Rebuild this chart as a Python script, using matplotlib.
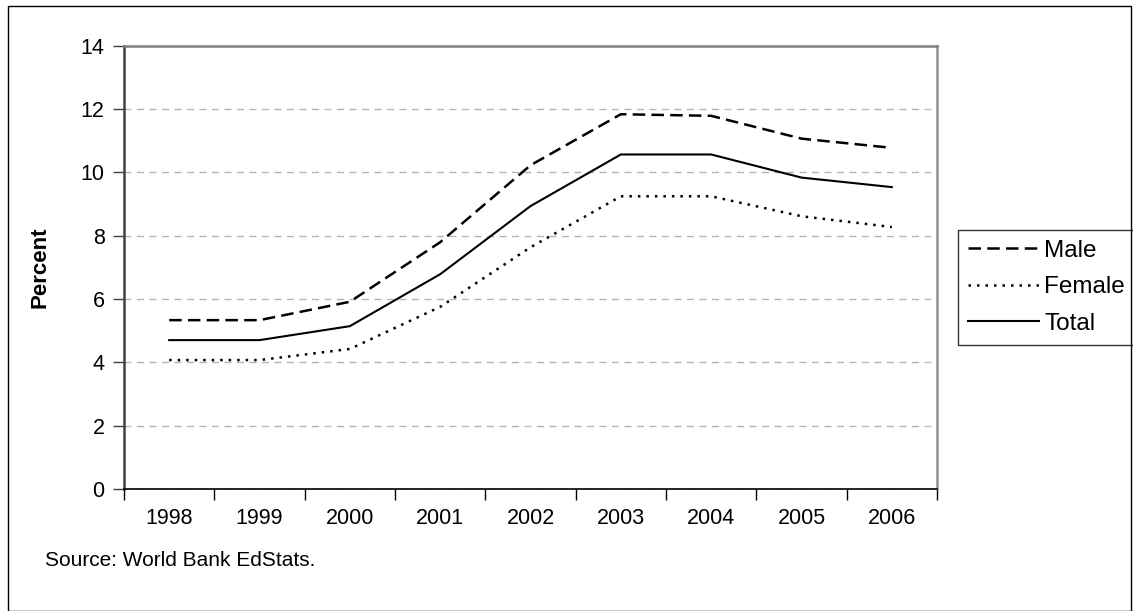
import matplotlib.pyplot as plt
from matplotlib.patches import Rectangle

plt.rcParams['font.family'] = ['Liberation Sans', 'DejaVu Sans']

years = ["1998", "1999", "2000", "2001", "2002", "2003", "2004", "2005", "2006"]
male = [5.33, 5.33, 5.91, 7.79, 10.22, 11.83, 11.78, 11.06, 10.77]
female = [4.07, 4.07, 4.42, 5.75, 7.63, 9.24, 9.24, 8.61, 8.27]
total = [4.70, 4.70, 5.14, 6.78, 8.93, 10.56, 10.56, 9.83, 9.53]

W, H = 1133, 611
fig = plt.figure(figsize=(W / 100, H / 100), dpi=100)
ax = fig.add_axes([124 / W, 1 - 489 / H, (937 - 124) / W, (489 - 45.5) / H])

x = range(len(years))
ax.plot(x, male, color='black', lw=1.8, linestyle=(0, (5, 2.5)), label='Male')
ax.plot(x, female, color='black', lw=1.8, linestyle=(0, (1, 2.4)), label='Female')
ax.plot(x, total, color='black', lw=1.5, linestyle='-', label='Total')

ax.set_xlim(-0.5, len(years) - 0.5)
ax.set_ylim(0, 14)
ax.set_yticks(range(0, 15, 2))
ax.yaxis.grid(True, color='#b4b4b4', lw=1, linestyle=(0, (5, 4)))
ax.set_axisbelow(True)

# category boundaries get the tick marks, centres get the labels
ax.set_xticks([i - 0.5 for i in range(len(years) + 1)])
ax.set_xticklabels([])
ax.set_xticks(list(x), minor=True)
ax.set_xticklabels(years, minor=True)
ax.tick_params(axis='x', which='major', length=8, width=1, direction='out', color='black')
ax.tick_params(axis='x', which='minor', length=0, pad=14, labelsize=15.5)
ax.tick_params(axis='y', length=8, width=1, direction='out', color='#404040', pad=6, labelsize=15.5)

ax.spines['left'].set_color('#404040')
ax.spines['left'].set_linewidth(1.8)
ax.spines['bottom'].set_color('black')
ax.spines['bottom'].set_linewidth(1.2)
ax.spines['top'].set_color('#808080')
ax.spines['top'].set_linewidth(1.8)
ax.spines['right'].set_color('#909090')
ax.spines['right'].set_linewidth(1.8)

fig.text(40 / W, 1 - 267 / H, 'Percent', rotation=90, ha='center', va='center',
         fontsize=16, fontweight='bold')
fig.text(45 / W, 1 - 560 / H, 'Source: World Bank EdStats.', ha='left', va='center', fontsize=15)

leg = ax.legend(loc='upper left', bbox_to_anchor=(958 / W, 1 - 230 / H), bbox_transform=fig.transFigure,
                borderaxespad=0, frameon=True, fancybox=False, fontsize=17.5, handlelength=2.95,
                handletextpad=0.2, borderpad=0.4, labelspacing=0.6)
leg.get_frame().set_edgecolor('black')
leg.get_frame().set_linewidth(1)

fig.patches.append(Rectangle((8 / W, 0), (1131 - 8) / W, 1 - 6 / H, transform=fig.transFigure,
                             fill=False, edgecolor='black', lw=1))

fig.savefig('out.png', dpi=100)
